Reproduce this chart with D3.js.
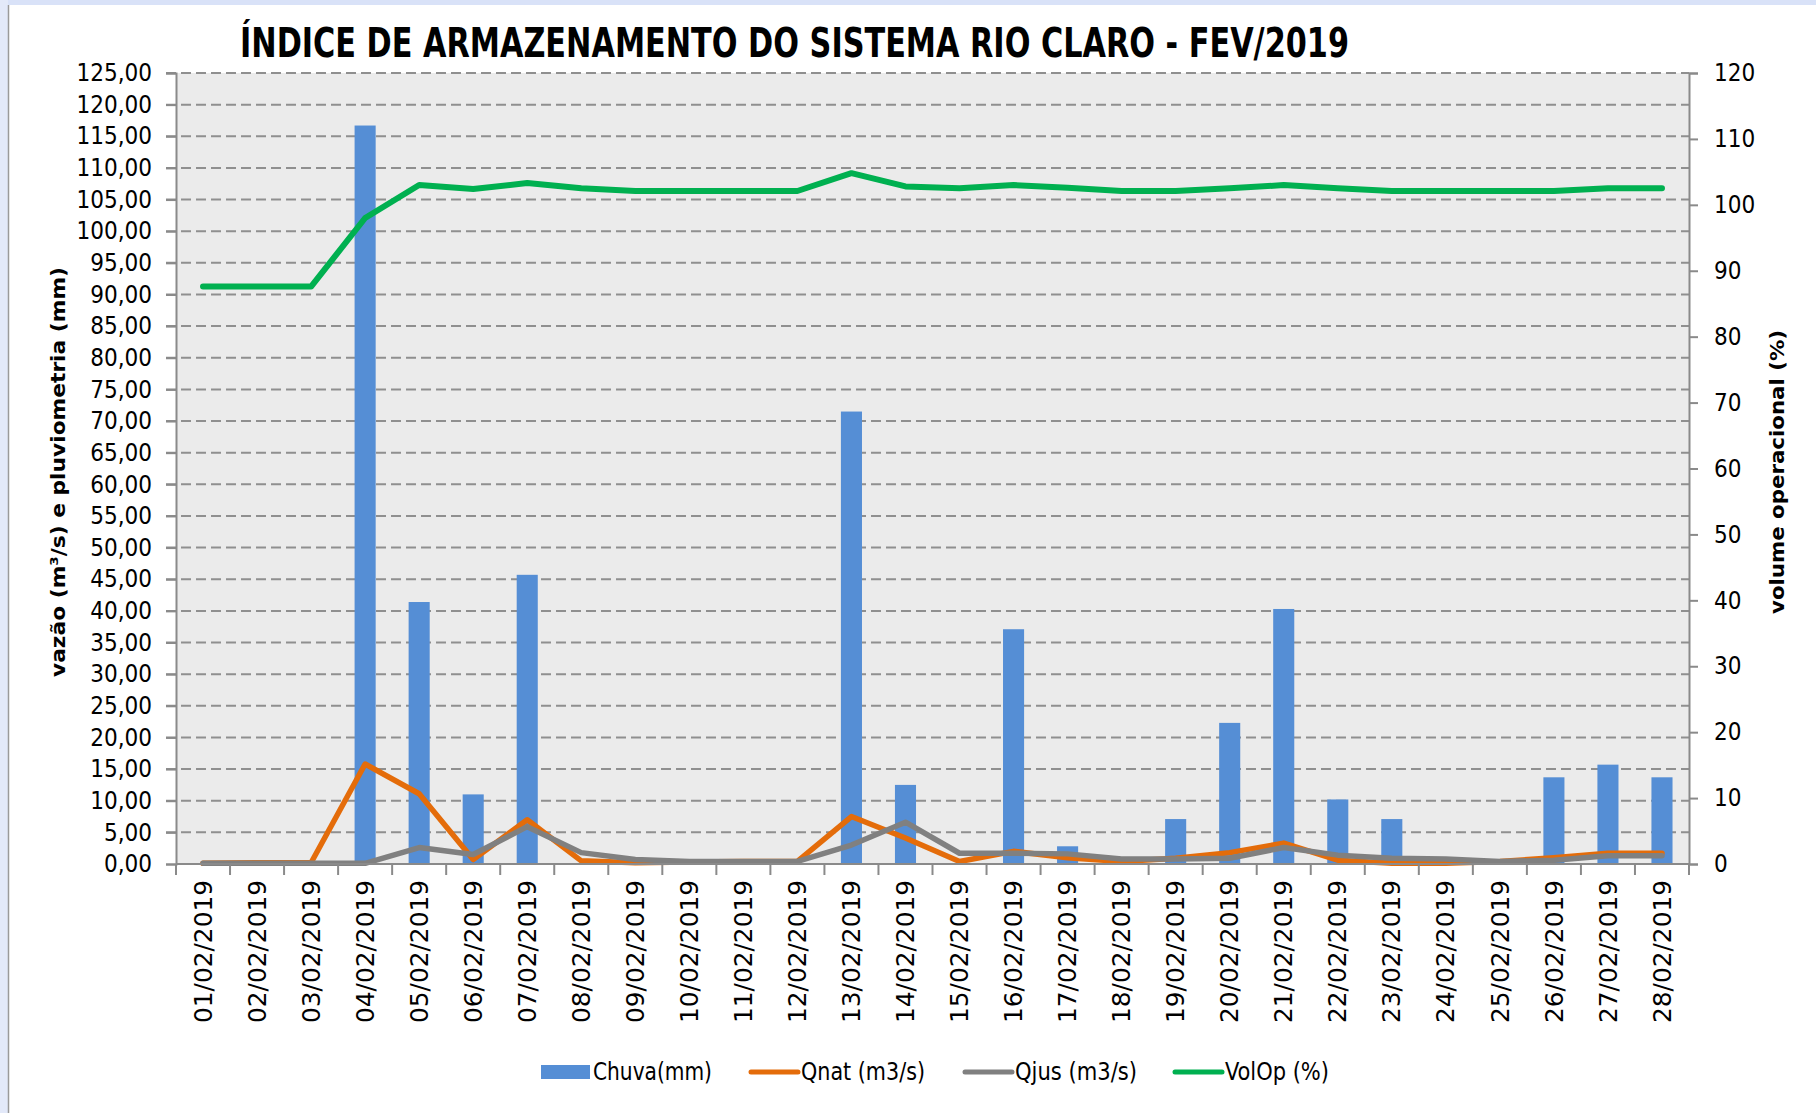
<!DOCTYPE html>
<html lang="pt">

<head>
    <meta charset="UTF-8">
    <title>Índice de armazenamento - Rio Claro</title>
    <style>
        body {
            margin: 0;
            background: #fff;
        }

        .cond {
            font-family: "Liberation Sans Narrow", "Arial Narrow", "DejaVu Sans Condensed", sans-serif;
        }

        .date {
            font-family: "DejaVu Sans", Verdana, sans-serif;
        }
    </style>
</head>

<body>
    <svg width="1816" height="1113"></svg>
    <script src="https://d3js.org/d3.v7.min.js"></script>
    <script>
        let dates = ["01/02/2019", "02/02/2019", "03/02/2019", "04/02/2019", "05/02/2019", "06/02/2019", "07/02/2019",
            "08/02/2019", "09/02/2019", "10/02/2019", "11/02/2019", "12/02/2019", "13/02/2019", "14/02/2019",
            "15/02/2019", "16/02/2019", "17/02/2019", "18/02/2019", "19/02/2019", "20/02/2019", "21/02/2019",
            "22/02/2019", "23/02/2019", "24/02/2019", "25/02/2019", "26/02/2019", "27/02/2019", "28/02/2019"];

        // chuva (mm) - eixo esquerdo
        let chuva = [0, 0, 0, 116.7, 41.4, 11.0, 45.7, 0, 0, 0, 0, 0, 71.5, 12.5,
            0, 37.1, 2.8, 0, 7.1, 22.3, 40.3, 10.2, 7.1, 0, 0, 13.7, 15.7, 13.7];

        // vazoes (m3/s) - eixo esquerdo
        let qnat = [0.1, 0.2, 0.2, 15.8, 11.1, 0.7, 7.0, 0.5, 0.2, 0.3, 0.4, 0.4, 7.5, 4.1,
            0.4, 2.0, 1.0, 0.4, 0.9, 1.8, 3.3, 0.6, 0.1, 0.1, 0.4, 1.0, 1.7, 1.7];
        let qjus = [0.1, 0.1, 0.1, 0.1, 2.6, 1.5, 5.9, 1.8, 0.7, 0.4, 0.4, 0.4, 3.0, 6.6,
            1.7, 1.7, 1.6, 0.8, 0.8, 0.9, 2.6, 1.4, 0.9, 0.8, 0.4, 0.6, 1.3, 1.3];

        // volume operacional (%) - eixo direito
        let volop = [87.6, 87.6, 87.6, 98.0, 103.0, 102.4, 103.3, 102.5, 102.1, 102.1, 102.1, 102.1, 104.8, 102.8,
            102.5, 103.0, 102.6, 102.1, 102.1, 102.5, 103.0, 102.5, 102.1, 102.1, 102.1, 102.1, 102.5, 102.5];

        let leftTicks = d3.range(0, 126, 5);
        let rightTicks = d3.range(0, 121, 10);

        let svg = d3.select("svg"),
            width = +svg.attr("width"),
            height = +svg.attr("height");

        let plot = { left: 176, right: 1689, top: 73, bottom: 864 };

        let x = d3.scaleBand().domain(dates).range([plot.left, plot.right]);
        let yL = d3.scaleLinear().domain([0, 125]).range([plot.bottom, plot.top]);
        let yR = d3.scaleLinear().domain([0, 120]).range([plot.bottom, plot.top]);

        let fmt = v => d3.format(".2f")(v).replace(".", ",");

        // moldura
        svg.append("rect").attr("width", width).attr("height", height).attr("fill", "#fff");
        svg.append("rect").attr("width", width).attr("height", 5).attr("fill", "#d9e2f8");
        svg.append("rect").attr("width", 8).attr("height", height).attr("fill", "#e3e9f9");
        svg.append("line").attr("x1", 8.5).attr("x2", 8.5).attr("y1", 5).attr("y2", height)
            .attr("stroke", "#9a9a9a").attr("stroke-width", 1.5);

        svg.append("rect")
            .attr("x", plot.left).attr("y", plot.top)
            .attr("width", plot.right - plot.left).attr("height", plot.bottom - plot.top)
            .attr("fill", "#ebebeb");

        // grade
        svg.append("g")
            .selectAll("line")
            .data(leftTicks.filter(d => d > 0))
            .join("line")
            .attr("x1", plot.left - 10).attr("x2", plot.right)
            .attr("y1", d => yL(d)).attr("y2", d => yL(d))
            .attr("stroke", "#8f8f8f").attr("stroke-width", 2)
            .attr("stroke-dasharray", "10,5");

        // eixo esquerdo
        let gl = svg.append("g")
            .attr("transform", `translate(${plot.left},0)`)
            .call(d3.axisLeft(yL).tickValues(leftTicks).tickSize(10).tickPadding(14).tickFormat(fmt));
        gl.select(".domain").attr("stroke", "#8a8a8a").attr("stroke-width", 2);
        gl.selectAll(".tick line").attr("stroke", "#8a8a8a").attr("stroke-width", 2);
        gl.selectAll(".tick text").attr("class", "cond").attr("font-size", 24).attr("fill", "#000");

        // eixo direito
        let gr = svg.append("g")
            .attr("transform", `translate(${plot.right},0)`)
            .call(d3.axisRight(yR).tickValues(rightTicks).tickSize(9).tickPadding(16));
        gr.select(".domain").attr("stroke", "#8a8a8a").attr("stroke-width", 2);
        gr.selectAll(".tick line").attr("stroke", "#8a8a8a").attr("stroke-width", 2);
        gr.selectAll(".tick text").attr("class", "cond").attr("font-size", 24).attr("fill", "#000");

        // barras
        let barW = x.bandwidth() * 0.39;
        svg.append("g")
            .selectAll("rect")
            .data(dates)
            .join("rect")
            .attr("x", d => x(d) + (x.bandwidth() - barW) / 2)
            .attr("width", barW)
            .attr("y", (d, i) => yL(chuva[i]))
            .attr("height", (d, i) => yL(0) - yL(chuva[i]))
            .attr("fill", "#558ed5");

        // linhas
        let cx = d => x(d) + x.bandwidth() / 2;
        let lineL = d3.line().x((d, i) => cx(dates[i])).y(d => yL(d));
        let lineR = d3.line().x((d, i) => cx(dates[i])).y(d => yR(d));

        svg.append("path").datum(qnat).attr("d", lineL)
            .attr("fill", "none").attr("stroke", "#e46c0a").attr("stroke-width", 5.5)
            .attr("stroke-linejoin", "round").attr("stroke-linecap", "round");
        svg.append("path").datum(qjus).attr("d", lineL)
            .attr("fill", "none").attr("stroke", "#808080").attr("stroke-width", 5.5)
            .attr("stroke-linejoin", "round").attr("stroke-linecap", "round");
        svg.append("path").datum(volop).attr("d", lineR)
            .attr("fill", "none").attr("stroke", "#00b050").attr("stroke-width", 6)
            .attr("stroke-linejoin", "round").attr("stroke-linecap", "round");

        // eixo x
        svg.append("line")
            .attr("x1", plot.left).attr("x2", plot.right)
            .attr("y1", plot.bottom).attr("y2", plot.bottom)
            .attr("stroke", "#8a8a8a").attr("stroke-width", 2);
        svg.append("g")
            .selectAll("line")
            .data(dates.map(d => x(d)).concat([plot.right]))
            .join("line")
            .attr("x1", d => d).attr("x2", d => d)
            .attr("y1", plot.bottom).attr("y2", plot.bottom + 11)
            .attr("stroke", "#8a8a8a").attr("stroke-width", 2);
        svg.append("g")
            .selectAll("text")
            .data(dates)
            .join("text")
            .attr("class", "date")
            .attr("transform", d => `translate(${cx(d)},${plot.bottom + 16}) rotate(-90)`)
            .attr("text-anchor", "end")
            .attr("dy", "0.36em")
            .attr("font-size", 24)
            .attr("textLength", 143)
            .attr("lengthAdjust", "spacingAndGlyphs")
            .text(d => d);

        // titulos
        svg.append("text")
            .attr("class", "cond")
            .attr("x", 240).attr("y", 57)
            .attr("font-size", 40).attr("font-weight", "bold")
            .attr("textLength", 1109).attr("lengthAdjust", "spacingAndGlyphs")
            .text("ÍNDICE DE ARMAZENAMENTO DO SISTEMA RIO CLARO - FEV/2019");

        svg.append("text")
            .attr("class", "date")
            .attr("transform", "translate(58,472) rotate(-90)")
            .attr("text-anchor", "middle").attr("dy", "0.35em")
            .attr("font-size", 20).attr("font-weight", "bold")
            .attr("textLength", 410).attr("lengthAdjust", "spacingAndGlyphs")
            .text("vazão (m³/s) e pluviometria (mm)");

        svg.append("text")
            .attr("class", "date")
            .attr("transform", "translate(1777,472) rotate(-90)")
            .attr("text-anchor", "middle").attr("dy", "0.35em")
            .attr("font-size", 20).attr("font-weight", "bold")
            .attr("textLength", 284).attr("lengthAdjust", "spacingAndGlyphs")
            .text("volume operacional (%)");

        // legenda
        let legend = [
            { name: "Chuva(mm)", color: "#558ed5", type: "bar", x: 541, w: 119 },
            { name: "Qnat (m3/s)", color: "#e46c0a", type: "line", x: 749, w: 124 },
            { name: "Qjus (m3/s)", color: "#808080", type: "line", x: 963, w: 122 },
            { name: "VolOp (%)", color: "#00b050", type: "line", x: 1173, w: 104 }
        ];
        let lg = svg.append("g").selectAll("g").data(legend).join("g")
            .attr("transform", d => `translate(${d.x},1072)`);
        lg.filter(d => d.type === "bar").append("rect")
            .attr("x", 0).attr("y", -7).attr("width", 49).attr("height", 14)
            .attr("fill", d => d.color);
        lg.filter(d => d.type === "line").append("line")
            .attr("x1", 2).attr("x2", 49).attr("y1", 0).attr("y2", 0)
            .attr("stroke", d => d.color).attr("stroke-width", 5).attr("stroke-linecap", "round");
        lg.append("text")
            .attr("class", "cond")
            .attr("x", 52).attr("dy", "0.35em")
            .attr("font-size", 24)
            .attr("textLength", d => d.w).attr("lengthAdjust", "spacingAndGlyphs")
            .text(d => d.name);
    </script>

</body>

</html>
